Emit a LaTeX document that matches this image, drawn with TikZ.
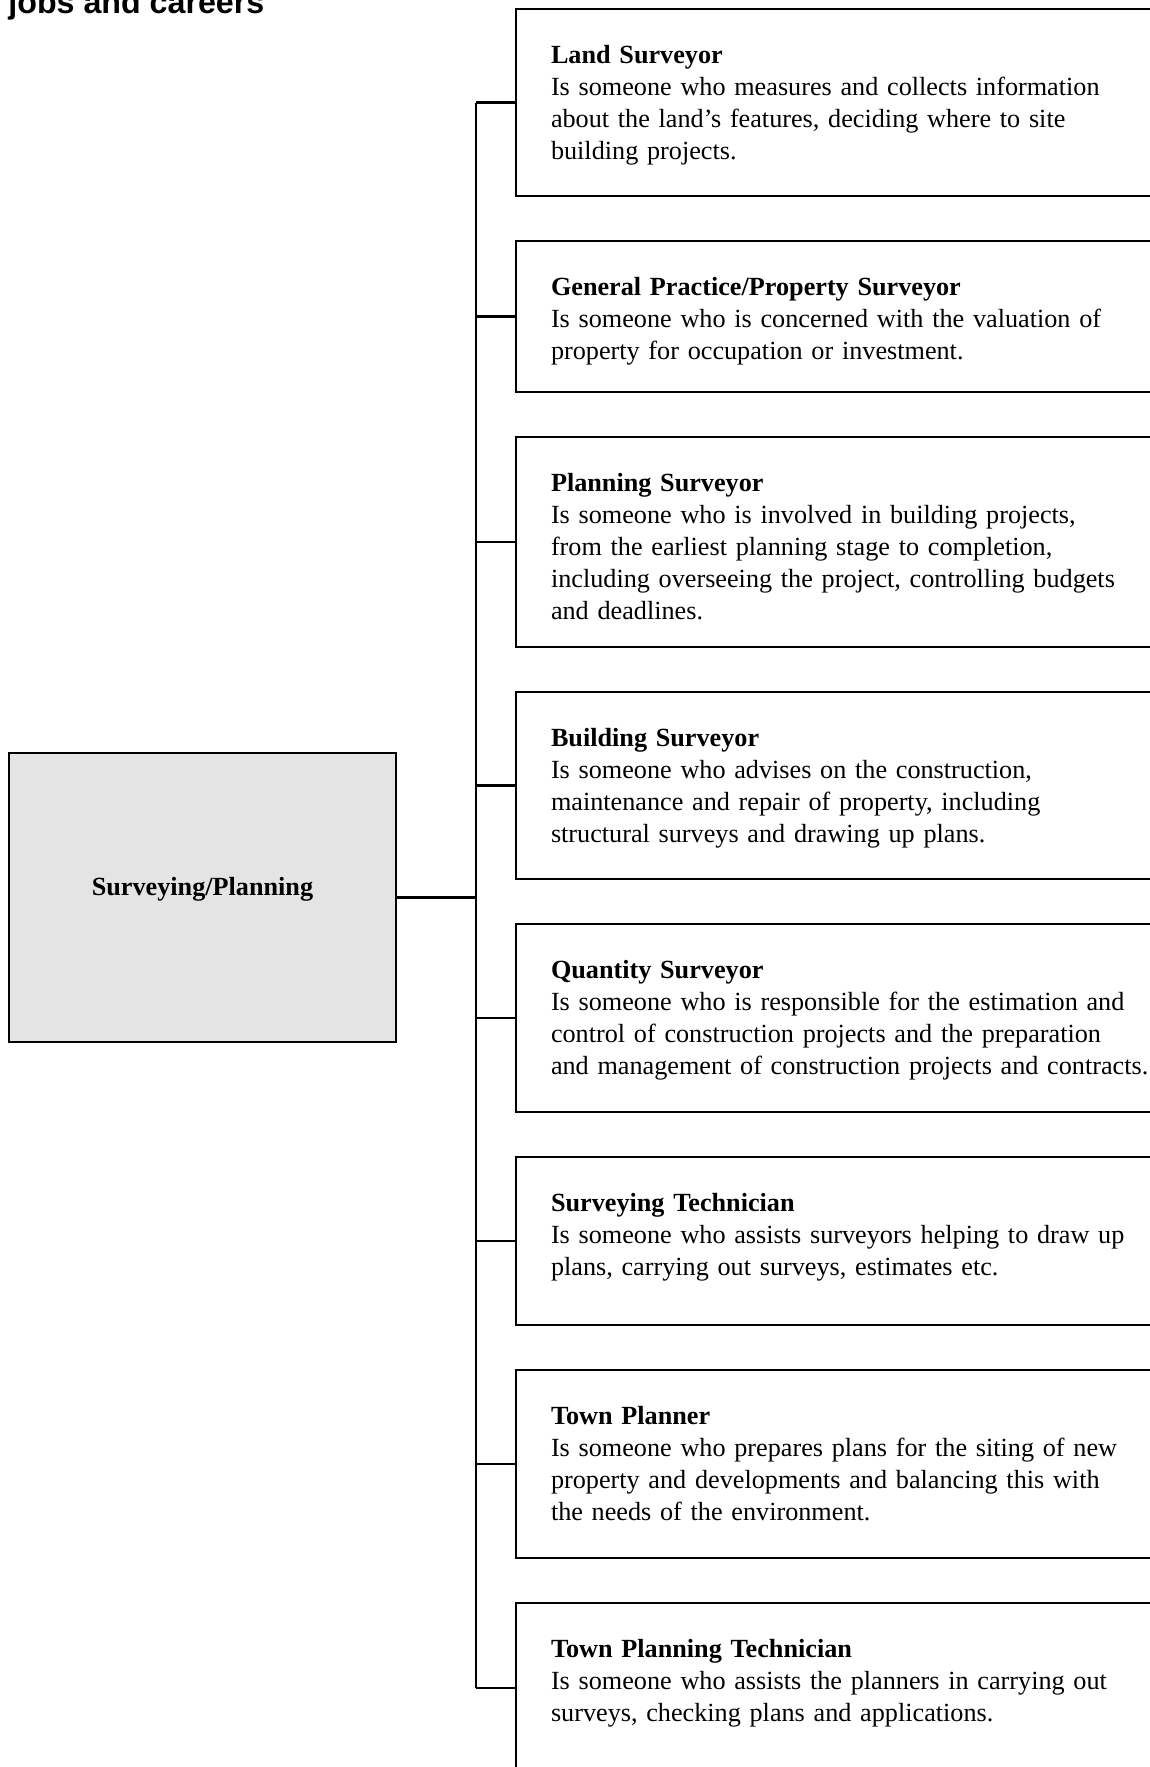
\documentclass[tikz,border=0pt]{standalone}
\usepackage{fontspec}
\setmainfont{Liberation Serif}
\newfontfamily\titlefont{Liberation Sans}
\usepackage{xcolor}
\usepackage{tikz}
\usetikzlibrary{positioning}

\definecolor{areagray}{HTML}{E4E4E4}

\tikzset{
  job/.style={draw, line width=1.3pt, text width=330pt, align=left,
    inner xsep=17.5pt, inner ysep=0pt, outer sep=0pt, text height=27pt,
    font=\fontsize{13.1pt}{16pt}\selectfont},
  area/.style={draw, line width=1.3pt, fill=areagray, minimum width=193.5pt,
    inner sep=0pt, outer sep=0pt, text height=71pt, text depth=73.5pt,
    font=\fontsize{13.1pt}{16pt}\selectfont\bfseries}
}

\begin{document}
\begin{tikzpicture}[node distance=22.5pt]
          \useasboundingbox (0,0) rectangle (575pt,-883.5pt);
          \node (title) at (4pt,-6.5pt) [anchor=base west, inner sep=0pt, font=\titlefont\bfseries\fontsize{16.1pt}{19pt}\selectfont] {jobs and careers};

          \node[area] (area) at (4.5pt,-376.5pt) [anchor=north west] {Surveying/Planning};
          \coordinate[right = 40pt of area.east] (trunk);

          \node[job] (land) at (258pt,-4.5pt) [anchor=north west, text depth=66.5pt]
            {\textbf{Land Surveyor}\\Is someone who measures and collects information\\about the land's features, deciding where to site\\building projects.};
          \node[job] (general) [below = of land, text depth=48.5pt]
            {\textbf{General Practice/Property Surveyor}\\Is someone who is concerned with the valuation of\\property for occupation or investment.};
          \node[job] (planning) [below = of general, text depth=78pt]
            {\textbf{Planning Surveyor}\\Is someone who is involved in building projects,\\from the earliest planning stage to completion,\\including overseeing the project, controlling budgets\\and deadlines.};
          \node[job] (building) [below = of planning, text depth=66.5pt]
            {\textbf{Building Surveyor}\\Is someone who advises on the construction,\\maintenance and repair of property, including\\structural surveys and drawing up plans.};
          \node[job] (quantity) [below = of building, text depth=67pt]
            {\textbf{Quantity Surveyor}\\Is someone who is responsible for the estimation and\\control of construction projects and the preparation\\and management of construction projects and contracts.};
          \node[job] (technician) [below = of quantity, text depth=57pt]
            {\textbf{Surveying Technician}\\Is someone who assists surveyors helping to draw up\\plans, carrying out surveys, estimates etc.};
          \node[job] (planner) [below = of technician, text depth=67pt]
            {\textbf{Town Planner}\\Is someone who prepares plans for the siting of new\\property and developments and balancing this with\\the needs of the environment.};
          \node[job] (towntech) [below = of planner, text depth=58pt]
            {\textbf{Town Planning Technician}\\Is someone who assists the planners in carrying out\\surveys, checking plans and applications.};

          \path[line width=1.1pt]
            (area) edge (trunk)
            (trunk |- land) edge (trunk |- towntech)
            (trunk |- land) edge (land)
            (trunk |- general) edge (general)
            (trunk |- planning) edge (planning)
            (trunk |- building) edge (building)
            (trunk |- quantity) edge (quantity)
            (trunk |- technician) edge (technician)
            (trunk |- planner) edge (planner)
            (trunk |- towntech) edge (towntech);
      \end{tikzpicture}
\end{document}
